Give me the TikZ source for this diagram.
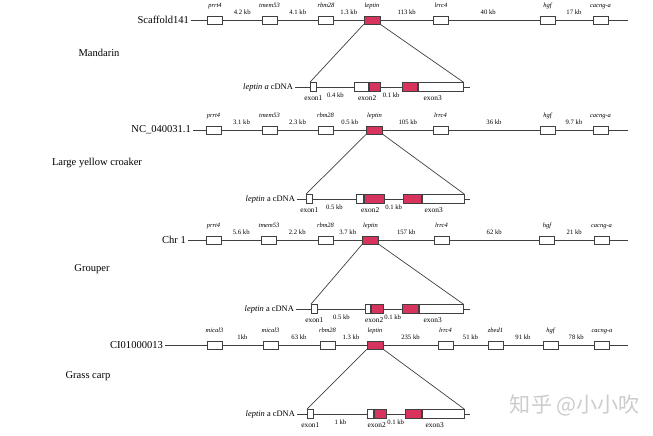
\documentclass[tikz,border=0pt]{standalone}
\usepackage{fontspec}
\setmainfont{Liberation Serif}
\newfontfamily\cjkfont{Noto Sans CJK SC}
\usetikzlibrary{positioning}

\definecolor{lepred}{HTML}{D6345E}
\newcommand{\chrfont}{\fontsize{6}{7}\selectfont}
\newcommand{\genefont}{\fontsize{3.7}{4}\selectfont\itshape}
\newcommand{\kbfont}{\fontsize{3.8}{4}\selectfont}
\newcommand{\exfont}{\fontsize{4.2}{5}\selectfont}
\newcommand{\cdnafont}{\fontsize{4.8}{5}\selectfont}

\begin{document}
\begin{tikzpicture}[
    x=0.02cm, y=-0.02cm,
    chr/.style={draw=black!75, line width=0.4pt},
    chrlab/.style={font=\chrfont, anchor=east, inner sep=1pt},
    splab/.style={font=\chrfont, inner sep=1pt},
    cdnalab/.style={font=\cdnafont, anchor=east, inner sep=1pt},
    gene/.style={rectangle, draw=black!75, line width=0.4pt, fill=white, minimum width=0.3cm, minimum height=0.16cm, inner sep=0pt},
    lep/.style={gene, fill=lepred, minimum width=0.32cm},
    gname/.style={font=\genefont, inner sep=0.5pt, text depth=0.2em},
    dist/.style={font=\kbfont, inner sep=0.5pt},
    exon/.style={rectangle, draw=black!75, line width=0.4pt, fill=white, minimum height=0.18cm, inner sep=0pt, anchor=west},
    cds/.style={exon, fill=lepred},
    exlab/.style={font=\exfont, inner sep=0.5pt, below=0.06cm}
]
\useasboundingbox (0,0) rectangle (653,436);

% ---------- Mandarin ----------
\node[chrlab] (m-chr) at (191,20) {Scaffold141};
\coordinate (m-end) at (628,20);
\draw[chr] (m-chr.east) -- (m-end);
\node[gene] (m-prrt4) at (215,20) {};
\node[gene] (m-tmem53) at (269.5,20) {};
\node[gene] (m-rbm28) at (326,20) {};
\node[lep] (m-lep) at (372,20) {};
\node[gene] (m-lrrc4) at (441,20) {};
\node[gene] (m-hgf) at (547.5,20) {};
\node[gene] (m-cacng) at (600.5,20) {};
\node[gname, above=0.06cm of m-prrt4] (m-prrt4-n) {prrt4};
\node[gname, above=0.06cm of m-tmem53] (m-tmem53-n) {tmem53};
\node[gname, above=0.06cm of m-rbm28] (m-rbm28-n) {rbm28};
\node[gname, above=0.06cm of m-lep] (m-lep-n) {leptin};
\node[gname, above=0.06cm of m-lrrc4] (m-lrrc4-n) {lrrc4};
\node[gname, above=0.06cm of m-hgf] (m-hgf-n) {hgf};
\node[gname, above=0.06cm of m-cacng] (m-cacng-n) {cacng-a};
\path (m-prrt4.north east) -- node[dist, above] (m-d1) {4.2 kb} (m-tmem53.north west);
\path (m-tmem53.north east) -- node[dist, above] (m-d2) {4.1 kb} (m-rbm28.north west);
\path (m-rbm28.north east) -- node[dist, above] (m-d3) {1.3 kb} (m-lep.north west);
\path (m-lep.north east) -- node[dist, above] (m-d4) {113 kb} (m-lrrc4.north west);
\path (m-lrrc4.north east) -- node[dist, above, xshift=-0.12cm] (m-d5) {40 kb} (m-hgf.north west);
\path (m-hgf.north east) -- node[dist, above] (m-d6) {17 kb} (m-cacng.north west);

\node[splab] (m-sp) at (99,53) {Mandarin};

\node[cdnalab] (m-cdna) at (295,87) {\textit{leptin a} cDNA};
\coordinate (m-cend) at (470,87);
\draw[chr] (m-cdna.east) -- (m-cend);
\node[exon, minimum width=0.12cm] (m-e1) at (310,87) {};
\node[exon, minimum width=0.28cm] (m-e2a) at (354,87) {};
\node[cds, minimum width=0.22cm, right=0pt of m-e2a] (m-e2b) {};
\node[cds, minimum width=0.30cm] (m-e3a) at (402,87) {};
\node[exon, minimum width=0.90cm, right=0pt of m-e3a] (m-e3b) {};
\node[exlab] (m-e1-n) at (m-e1.south) {exon1};
\path (m-e2a.south west) -- node[exlab] (m-e2-n) {exon2} (m-e2b.south east);
\path (m-e3a.south west) -- node[exlab] (m-e3-n) {exon3} (m-e3b.south east);
\path (m-e1.south east) -- node[dist, below] (m-k1) {0.4 kb} (m-e2a.south west);
\path (m-e2b.south east) -- node[dist, below] (m-k2) {0.1 kb} (m-e3a.south west);
\draw[chr] (m-lep.south west) -- (m-e1.north west);
\draw[chr] (m-lep.south east) -- (m-e3b.north east);

% ---------- Large yellow croaker ----------
\node[chrlab] (y-chr) at (193,130) {NC\_040031.1};
\coordinate (y-end) at (628,130);
\draw[chr] (y-chr.east) -- (y-end);
\node[gene] (y-prrt4) at (213.5,130) {};
\node[gene] (y-tmem53) at (269.5,130) {};
\node[gene] (y-rbm28) at (325.5,130) {};
\node[lep] (y-lep) at (374.5,130) {};
\node[gene] (y-lrrc4) at (440.5,130) {};
\node[gene] (y-hgf) at (547.5,130) {};
\node[gene] (y-cacng) at (600.5,130) {};
\node[gname, above=0.06cm of y-prrt4] (y-prrt4-n) {prrt4};
\node[gname, above=0.06cm of y-tmem53] (y-tmem53-n) {tmem53};
\node[gname, above=0.06cm of y-rbm28] (y-rbm28-n) {rbm28};
\node[gname, above=0.06cm of y-lep] (y-lep-n) {leptin};
\node[gname, above=0.06cm of y-lrrc4] (y-lrrc4-n) {lrrc4};
\node[gname, above=0.06cm of y-hgf] (y-hgf-n) {hgf};
\node[gname, above=0.06cm of y-cacng] (y-cacng-n) {cacng-a};
\path (y-prrt4.north east) -- node[dist, above] (y-d1) {3.1 kb} (y-tmem53.north west);
\path (y-tmem53.north east) -- node[dist, above] (y-d2) {2.3 kb} (y-rbm28.north west);
\path (y-rbm28.north east) -- node[dist, above] (y-d3) {0.5 kb} (y-lep.north west);
\path (y-lep.north east) -- node[dist, above] (y-d4) {105 kb} (y-lrrc4.north west);
\path (y-lrrc4.north east) -- node[dist, above] (y-d5) {36 kb} (y-hgf.north west);
\path (y-hgf.north east) -- node[dist, above] (y-d6) {9.7 kb} (y-cacng.north west);

\node[splab] (y-sp) at (97,163) {Large yellow croaker};

\node[cdnalab] (y-cdna) at (297,199) {\textit{leptin} a cDNA};
\coordinate (y-cend) at (470,199);
\draw[chr] (y-cdna.east) -- (y-cend);
\node[exon, minimum width=0.12cm] (y-e1) at (306,199) {};
\node[exon, minimum width=0.14cm] (y-e2a) at (356,199) {};
\node[cds, minimum width=0.40cm, right=0pt of y-e2a] (y-e2b) {};
\node[cds, minimum width=0.36cm] (y-e3a) at (403,199) {};
\node[exon, minimum width=0.84cm, right=0pt of y-e3a] (y-e3b) {};
\node[exlab] (y-e1-n) at (y-e1.south) {exon1};
\path (y-e2a.south west) -- node[exlab] (y-e2-n) {exon2} (y-e2b.south east);
\path (y-e3a.south west) -- node[exlab] (y-e3-n) {exon3} (y-e3b.south east);
\path (y-e1.south east) -- node[dist, below] (y-k1) {0.5 kb} (y-e2a.south west);
\path (y-e2b.south east) -- node[dist, below] (y-k2) {0.1 kb} (y-e3a.south west);
\draw[chr] (y-lep.south west) -- (y-e1.north west);
\draw[chr] (y-lep.south east) -- (y-e3b.north east);

% ---------- Grouper ----------
\node[chrlab] (g-chr) at (188,240) {Chr 1};
\coordinate (g-end) at (628,240);
\draw[chr] (g-chr.east) -- (g-end);
\node[gene] (g-prrt4) at (213.5,240) {};
\node[gene] (g-tmem53) at (269,240) {};
\node[gene] (g-rbm28) at (325.5,240) {};
\node[lep] (g-lep) at (370.5,240) {};
\node[gene] (g-lrrc4) at (441.5,240) {};
\node[gene] (g-hgf) at (547,240) {};
\node[gene] (g-cacng) at (601.5,240) {};
\node[gname, above=0.06cm of g-prrt4] (g-prrt4-n) {prrt4};
\node[gname, above=0.06cm of g-tmem53] (g-tmem53-n) {tmem53};
\node[gname, above=0.06cm of g-rbm28] (g-rbm28-n) {rbm28};
\node[gname, above=0.06cm of g-lep] (g-lep-n) {leptin};
\node[gname, above=0.06cm of g-lrrc4] (g-lrrc4-n) {lrrc4};
\node[gname, above=0.06cm of g-hgf] (g-hgf-n) {hgf};
\node[gname, above=0.06cm of g-cacng] (g-cacng-n) {cacng-a};
\path (g-prrt4.north east) -- node[dist, above] (g-d1) {5.6 kb} (g-tmem53.north west);
\path (g-tmem53.north east) -- node[dist, above] (g-d2) {2.2 kb} (g-rbm28.north west);
\path (g-rbm28.north east) -- node[dist, above] (g-d3) {3.7 kb} (g-lep.north west);
\path (g-lep.north east) -- node[dist, above] (g-d4) {157 kb} (g-lrrc4.north west);
\path (g-lrrc4.north east) -- node[dist, above] (g-d5) {62 kb} (g-hgf.north west);
\path (g-hgf.north east) -- node[dist, above] (g-d6) {21 kb} (g-cacng.north west);

\node[splab] (g-sp) at (92,269) {Grouper};

\node[cdnalab] (g-cdna) at (296,309) {\textit{leptin} a cDNA};
\coordinate (g-cend) at (470,309);
\draw[chr] (g-cdna.east) -- (g-cend);
\node[exon, minimum width=0.12cm] (g-e1) at (311,309) {};
\node[exon, minimum width=0.10cm] (g-e2a) at (365,309) {};
\node[cds, minimum width=0.24cm, right=0pt of g-e2a] (g-e2b) {};
\node[cds, minimum width=0.32cm] (g-e3a) at (402,309) {};
\node[exon, minimum width=0.88cm, right=0pt of g-e3a] (g-e3b) {};
\node[exlab] (g-e1-n) at (g-e1.south) {exon1};
\path (g-e2a.south west) -- node[exlab] (g-e2-n) {exon2} (g-e2b.south east);
\path (g-e3a.south west) -- node[exlab] (g-e3-n) {exon3} (g-e3b.south east);
\path (g-e1.south east) -- node[dist, below] (g-k1) {0.5 kb} (g-e2a.south west);
\path (g-e2b.south east) -- node[dist, below] (g-k2) {0.1 kb} (g-e3a.south west);
\draw[chr] (g-lep.south west) -- (g-e1.north west);
\draw[chr] (g-lep.south east) -- (g-e3b.north east);

% ---------- Grass carp ----------
\node[chrlab] (c-chr) at (165,345) {CI01000013};
\coordinate (c-end) at (628,345);
\draw[chr] (c-chr.east) -- (c-end);
\node[gene] (c-mical3a) at (214.5,345) {};
\node[gene] (c-mical3b) at (270.5,345) {};
\node[gene] (c-rbm28) at (327.5,345) {};
\node[lep] (c-lep) at (375,345) {};
\node[gene] (c-lrrc4) at (445.5,345) {};
\node[gene] (c-zbed1) at (495.5,345) {};
\node[gene] (c-hgf) at (550.5,345) {};
\node[gene] (c-cacng) at (602,345) {};
\node[gname, above=0.06cm of c-mical3a] (c-mical3a-n) {mical3};
\node[gname, above=0.06cm of c-mical3b] (c-mical3b-n) {mical3};
\node[gname, above=0.06cm of c-rbm28] (c-rbm28-n) {rbm28};
\node[gname, above=0.06cm of c-lep] (c-lep-n) {leptin};
\node[gname, above=0.06cm of c-lrrc4] (c-lrrc4-n) {lrrc4};
\node[gname, above=0.06cm of c-zbed1] (c-zbed1-n) {zbed1};
\node[gname, above=0.06cm of c-hgf] (c-hgf-n) {hgf};
\node[gname, above=0.06cm of c-cacng] (c-cacng-n) {cacng-a};
\path (c-mical3a.north east) -- node[dist, above] (c-d1) {1kb} (c-mical3b.north west);
\path (c-mical3b.north east) -- node[dist, above] (c-d2) {63 kb} (c-rbm28.north west);
\path (c-rbm28.north east) -- node[dist, above] (c-d3) {1.3 kb} (c-lep.north west);
\path (c-lep.north east) -- node[dist, above] (c-d4) {235 kb} (c-lrrc4.north west);
\path (c-lrrc4.north east) -- node[dist, above] (c-d5) {51 kb} (c-zbed1.north west);
\path (c-zbed1.north east) -- node[dist, above] (c-d6) {91 kb} (c-hgf.north west);
\path (c-hgf.north east) -- node[dist, above] (c-d7) {78 kb} (c-cacng.north west);

\node[splab] (c-sp) at (88,376) {Grass carp};

\node[cdnalab] (c-cdna) at (297,414) {\textit{leptin} a cDNA};
\coordinate (c-cend) at (470,414);
\draw[chr] (c-cdna.east) -- (c-cend);
\node[exon, minimum width=0.12cm] (c-e1) at (307,414) {};
\node[exon, minimum width=0.12cm] (c-e2a) at (367,414) {};
\node[cds, minimum width=0.24cm, right=0pt of c-e2a] (c-e2b) {};
\node[cds, minimum width=0.32cm] (c-e3a) at (405,414) {};
\node[exon, minimum width=0.84cm, right=0pt of c-e3a] (c-e3b) {};
\node[exlab] (c-e1-n) at (c-e1.south) {exon1};
\path (c-e2a.south west) -- node[exlab] (c-e2-n) {exon2} (c-e2b.south east);
\path (c-e3a.south west) -- node[exlab] (c-e3-n) {exon3} (c-e3b.south east);
\path (c-e1.south east) -- node[dist, below] (c-k1) {1 kb} (c-e2a.south west);
\path (c-e2b.south east) -- node[dist, below] (c-k2) {0.1 kb} (c-e3a.south west);
\draw[chr] (c-lep.south west) -- (c-e1.north west);
\draw[chr] (c-lep.south east) -- (c-e3b.north east);

% watermark
\node[text=gray!40, font=\cjkfont\fontsize{12}{14}\selectfont] (wm) at (575,405) {知乎 @小小吹};

\end{tikzpicture}
\end{document}
